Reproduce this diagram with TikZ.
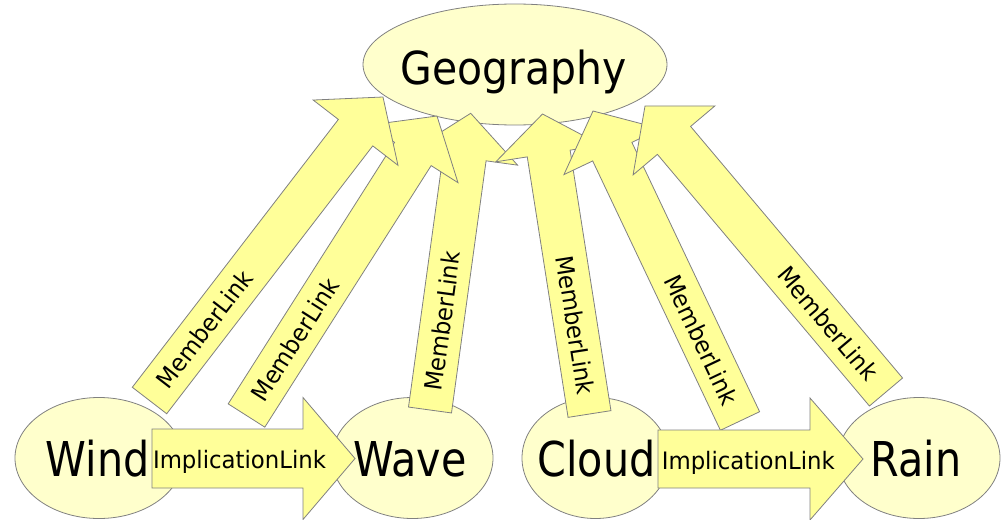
\documentclass[tikz,border=0pt]{standalone}
\usepackage{fontspec}
\usetikzlibrary{calc,shapes.geometric}
\newfontfamily\nodefont[FakeStretch=0.86]{DejaVu Sans}
\newfontfamily\geofont[FakeStretch=0.9]{DejaVu Sans}
\newfontfamily\linkfont[FakeStretch=0.95]{DejaVu Sans}
\definecolor{atomfill}{RGB}{255,255,204}
\definecolor{linkfill}{RGB}{255,255,153}
\definecolor{edgegray}{RGB}{128,128,128}
\tikzset{
  atom/.style={ellipse, draw=edgegray, fill=atomfill, line width=0.8pt, inner sep=0pt},
  linkshape/.style={draw=edgegray, fill=linkfill, line width=0.8pt},
  atomlabel/.style={font=\nodefont\fontsize{48}{50}\selectfont, anchor=base, inner sep=0pt},
  geolabel/.style={font=\geofont\fontsize{45.5}{48}\selectfont, anchor=base, inner sep=0pt},
  linklabel/.style={font=\linkfont\fontsize{24}{26}\selectfont, inner sep=0pt},
}
% block arrow: #1 tail, #2 tip, #3 half shaft width, #4 half head width, #5 head length
\newcommand{\fatlink}[5]{%
  \coordinate (fl-base) at ($(#2)!#5!(#1)$);
  \filldraw[linkshape] ($(#1)!#3!90:(#2)$) -- ($(fl-base)!#3!90:(#2)$)
    -- ($(fl-base)!#4!90:(#2)$) -- (#2) -- ($(fl-base)!#4!-90:(#2)$)
    -- ($(fl-base)!#3!-90:(#2)$) -- ($(#1)!#3!-90:(#2)$) -- cycle;}
\begin{document}
\begin{tikzpicture}[x=1pt,y=-1pt]
\useasboundingbox (0,0) rectangle (1003,519);

% concept atoms
\node[atom, minimum width=304pt, minimum height=121pt] (geo) at (515,64.5) {};
\node[atom, minimum width=168pt, minimum height=121pt] (wind) at (99,458) {};
\node[atom, minimum width=161pt, minimum height=121pt] (wave) at (412.5,458) {};
\node[atom, minimum width=147pt, minimum height=121pt] (cloud) at (595.5,458) {};
\node[atom, minimum width=162pt, minimum height=121pt] (rain) at (919,458) {};

\node[geolabel] at ($(geo.center)+(-1.5,19.5)$) {Geography};
\node[atomlabel] at ($(wind.center)+(-1.5,18.7)$) {Wind};
\node[atomlabel] at ($(wave.center)+(-2.5,18.7)$) {Wave};
\node[atomlabel] at ($(cloud.center)+(1,18.7)$) {Cloud};
\node[atomlabel] at ($(rain.center)+(-3,18.7)$) {Rain};

% implication links
\coordinate (i1s) at ($(wind.center)+(53,0.5)$);
\coordinate (i1e) at ($(wave.center)+(-57.5,0.5)$);
\coordinate (i2s) at ($(cloud.center)+(62.5,1)$);
\coordinate (i2e) at ($(rain.center)+(-56,1)$);

% member link ends
\coordinate (m1s) at ($(wind.center)+(50.5,-57.5)$);
\coordinate (m2s) at ($(i1s)+(94.5,-43)$);
\coordinate (m3s) at ($(wave.center)+(17.5,-48)$);
\coordinate (m4s) at ($(cloud.center)+(-6,-44)$);
\coordinate (m5s) at ($(i2s)+(82,-38)$);
\coordinate (m6s) at ($(rain.center)+(-33,-66)$);
\coordinate (m1e) at ($(geo.center)+(-132,32.5)$);
\coordinate (m2e) at ($(geo.center)+(-78,51.5)$);
\coordinate (m3e) at ($(geo.center)+(-44.3,48.8)$);
\coordinate (m4e) at ($(geo.center)+(27.5,49.5)$);
\coordinate (m5e) at ($(geo.center)+(78,46.5)$);
\coordinate (m6e) at ($(geo.center)+(130,41.5)$);

% member links, back to front
\fatlink{m3s}{m3e}{21.7pt}{53.5pt}{45pt}
\path (m3s) -- (m3e) node[linklabel, sloped, pos=0.30] {MemberLink};
\fatlink{m2s}{m2e}{21.7pt}{53.5pt}{45pt}
\path (m2s) -- (m2e) node[linklabel, sloped, pos=0.254] {MemberLink};
\fatlink{m1s}{m1e}{21.7pt}{53.5pt}{45pt}
\path (m1s) -- (m1e) node[linklabel, sloped, pos=0.235] {MemberLink};
\fatlink{m4s}{m4e}{21.7pt}{53.5pt}{40pt}
\path (m4s) -- (m4e) node[linklabel, sloped, pos=0.296] {MemberLink};
\fatlink{m5s}{m5e}{21.7pt}{53.5pt}{45pt}
\path (m5s) -- (m5e) node[linklabel, sloped, pos=0.262] {MemberLink};
\fatlink{m6s}{m6e}{21.7pt}{53.5pt}{45pt}
\path (m6s) -- (m6e) node[linklabel, sloped, pos=0.24] {MemberLink};

% implication links on top
\fatlink{i1s}{i1e}{29.5pt}{61pt}{52pt}
\node[linklabel, anchor=base] at ($(i1s)+(87.5,10)$) {ImplicationLink};
\fatlink{i2s}{i2e}{29pt}{61pt}{53pt}
\node[linklabel, anchor=base] at ($(i2s)+(90.3,10)$) {ImplicationLink};
\end{tikzpicture}
\end{document}
